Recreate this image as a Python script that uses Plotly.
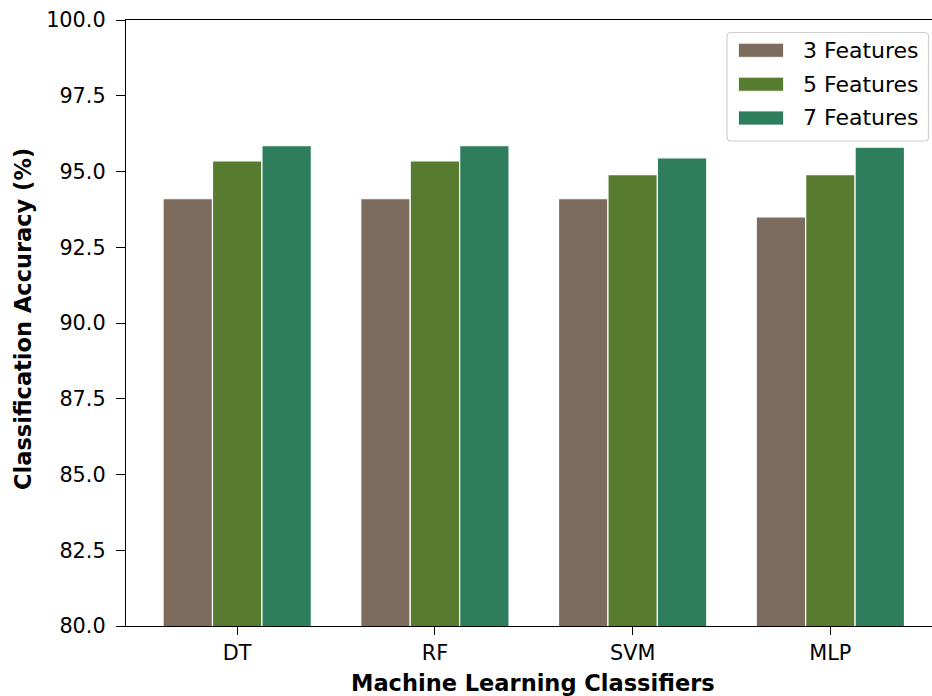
import plotly.graph_objects as go

# Accuracy (%) of each classifier for the three feature-subset sizes
classifiers = ["DT", "RF", "SVM", "MLP"]
series_names = ["3 Features", "5 Features", "7 Features"]
acc_3 = [94.1, 94.1, 94.1, 93.5]
acc_5 = [95.35, 95.35, 94.9, 94.9]
acc_7 = [95.85, 95.85, 95.45, 95.8]
series_values = [acc_3, acc_5, acc_7]
colors = ["#7d6c5d", "#577c2f", "#2e7e5e"]
y_ticks = [80.0, 82.5, 85.0, 87.5, 90.0, 92.5, 95.0, 97.5, 100.0]

W, H = 932, 696
L, T, R_EDGE, B = 126, 20, 932, 626
FONT = "DejaVu Sans"

fig = go.Figure()
for name, vals, col in zip(series_names, series_values, colors):
    fig.add_trace(go.Bar(
        x=classifiers, y=vals, name=name,
        marker=dict(color=col, line=dict(color="white", width=1.2)),
        showlegend=False,
    ))


def px_x(X):
    return (X - L) / (R_EDGE - L)


def px_y(Y):
    return (B - Y) / (B - T)


# legend box with rounded corners
bx0, bx1, by0, by1, r = 727, 928.5, 32.5, 141, 4
path = (
    f"M {px_x(bx0 + r)} {px_y(by0)} L {px_x(bx1 - r)} {px_y(by0)} "
    f"Q {px_x(bx1)} {px_y(by0)} {px_x(bx1)} {px_y(by0 + r)} "
    f"L {px_x(bx1)} {px_y(by1 - r)} Q {px_x(bx1)} {px_y(by1)} {px_x(bx1 - r)} {px_y(by1)} "
    f"L {px_x(bx0 + r)} {px_y(by1)} Q {px_x(bx0)} {px_y(by1)} {px_x(bx0)} {px_y(by1 - r)} "
    f"L {px_x(bx0)} {px_y(by0 + r)} Q {px_x(bx0)} {px_y(by0)} {px_x(bx0 + r)} {px_y(by0)} Z"
)
shapes = [dict(type="path", xref="paper", yref="paper", path=path,
               line=dict(color="#d0d0d0", width=1.2), fillcolor="rgba(255,255,255,0.8)",
               layer="above")]
annotations = []
row_centers = [50.3, 84.2, 118.0]
for name, col, yc in zip(series_names, colors, row_centers):
    shapes.append(dict(type="rect", xref="paper", yref="paper",
                       x0=px_x(738.5), x1=px_x(783.5),
                       y0=px_y(yc - 7), y1=px_y(yc + 7),
                       fillcolor=col, line=dict(color="white", width=0.8), layer="above"))
    annotations.append(dict(text=name, xref="paper", yref="paper",
                            x=px_x(801), y=px_y(yc), xanchor="left", yanchor="middle",
                            showarrow=False, font=dict(family=FONT, size=22, color="black")))

# axis titles
annotations.append(dict(text="<b>Machine Learning Classifiers</b>", xref="paper", yref="paper",
                        x=px_x(533), y=px_y(683), xanchor="center", yanchor="middle",
                        showarrow=False, font=dict(family=FONT, size=22.5, color="black")))
annotations.append(dict(text="<b>Classification Accuracy (%)</b>", xref="paper", yref="paper",
                        x=px_x(23), y=px_y(319), xanchor="center", yanchor="middle",
                        textangle=-90, showarrow=False,
                        font=dict(family=FONT, size=22.5, color="black")))

fig.update_layout(
    width=W, height=H,
    margin=dict(l=L, r=W - R_EDGE, t=T, b=H - B, pad=0),
    paper_bgcolor="white", plot_bgcolor="white",
    barmode="group", bargap=0.25, bargroupgap=0,
    font=dict(family=FONT, size=21, color="black"),
    shapes=shapes, annotations=annotations,
    showlegend=False,
)
fig.update_xaxes(
    type="category", range=[-0.5625, 3.514],
    showline=True, linecolor="black", linewidth=1.3, mirror=True,
    ticks="outside", ticklen=8, tickwidth=1.3, tickcolor="black",
    showgrid=False, zeroline=False,
    tickfont=dict(family=FONT, size=20.8, color="black"),
)
fig.update_yaxes(
    range=[80, 100], tickvals=y_ticks, tickformat=".1f",
    showline=True, linecolor="black", linewidth=1.3, mirror=False,
    ticks="outside", ticklen=9, tickwidth=1.3, tickcolor="black",
    ticklabelstandoff=6,
    showgrid=False, zeroline=False,
    tickfont=dict(family=FONT, size=20.8, color="black"),
)

fig.write_html("out.html")
